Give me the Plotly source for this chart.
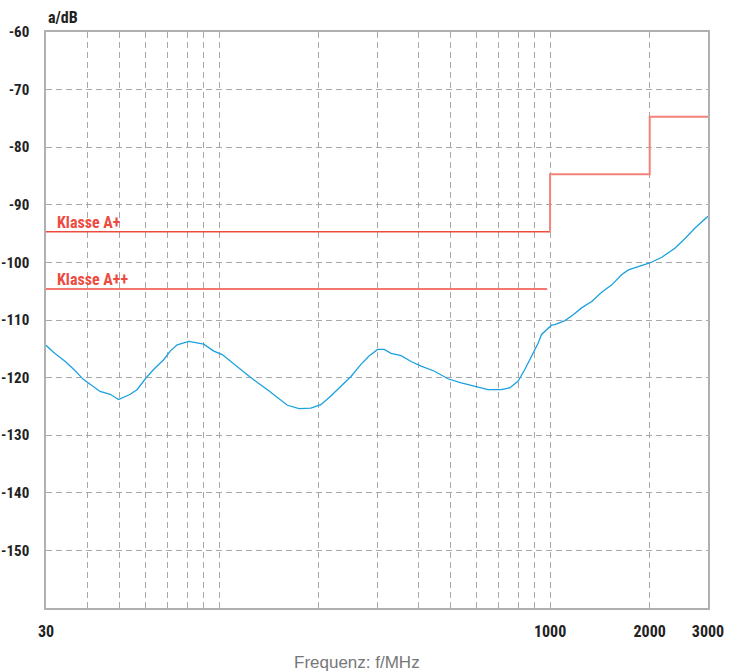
import plotly.graph_objects as go
import math

# ---- data ----
freq_mhz = [30, 31.6, 34.3, 36.3, 38.9, 40.3, 43.7, 46.9, 49.7, 53.9, 56.5, 59.9,
            63.4, 68.0, 71.2, 74.7, 81.0, 89.9, 96.4, 102.2, 110.9, 124.6, 140.0,
            160.9, 174.4, 189.3, 203.0, 217.6, 233.4, 250.3, 268.3, 284.3, 301.5,
            315.7, 330.8, 354.7, 380.3, 407.8, 447.6, 491.4, 539.0, 591.4, 649.4,
            712.7, 755.1, 800.9, 838.8, 878.9, 920.7, 942.3, 964.2, 987.4, 1010,
            1034, 1070, 1109, 1175, 1245, 1336, 1432, 1536, 1647, 1725, 1893, 2000,
            2176, 2388, 2561, 2746, 3000]
atten_db = [-114.4, -115.6, -117.2, -118.5, -120.3, -120.9, -122.4, -122.9, -123.8,
            -122.9, -122.1, -120.2, -118.6, -116.9, -115.4, -114.3, -113.7, -114.2,
            -115.4, -116.0, -117.7, -120.0, -122.1, -124.8, -125.4, -125.3, -124.7,
            -123.2, -121.5, -119.8, -117.7, -116.2, -115.1, -115.1, -115.8, -116.2,
            -117.2, -118.0, -118.9, -120.2, -120.9, -121.5, -122.1, -122.1, -121.8,
            -120.6, -118.6, -116.3, -114.0, -112.5, -112.0, -111.4, -110.9, -110.8,
            -110.4, -110.1, -109.1, -107.9, -106.8, -105.2, -103.9, -102.1, -101.3,
            -100.6, -100.1, -99.1, -97.5, -95.8, -94.0, -92.0]

# limit "Klasse A+" (step)
aplus_low_f = [30, 1000]
aplus_low_db = [-94.7, -94.7]
aplus_step_f = [1000, 1000, 2000, 2000, 3000]
aplus_step_db = [-94.7, -84.7, -84.7, -74.7, -74.7]
# limit "Klasse A++"
aplusplus_f = [30, 980]
aplusplus_db = [-104.6, -104.6]

x_tickvals = [30, 40, 50, 60, 70, 80, 90, 100, 200, 300, 400, 500, 600, 700, 800,
              900, 1000, 2000, 3000]
x_ticktext = ["30"] + [""] * 15 + ["1000", "2000", "3000"]
y_tickvals = [-150, -140, -130, -120, -110, -100, -90, -80, -70, -60]
y_ticktext = [str(v) for v in y_tickvals]

RED = "#ee4b3f"
RED_LIGHT = "#f2827a"
BLUE = "#1ba1e2"
GRID = "#a8a8a8"
FONT_C = "Liberation Sans Narrow, Roboto Condensed, Liberation Sans, Arial"
FONT_N = "Liberation Sans, Arial"

fig = go.Figure()
fig.add_trace(go.Scatter(x=aplus_low_f, y=aplus_low_db, mode="lines",
                         line=dict(color=RED, width=1.5), hoverinfo="skip"))
fig.add_trace(go.Scatter(x=aplus_step_f, y=aplus_step_db, mode="lines",
                         line=dict(color=RED_LIGHT, width=2), hoverinfo="skip"))
fig.add_trace(go.Scatter(x=aplusplus_f, y=aplusplus_db, mode="lines",
                         line=dict(color=RED, width=1.5), hoverinfo="skip"))
fig.add_trace(go.Scatter(x=freq_mhz, y=atten_db, mode="lines",
                         line=dict(color=BLUE, width=1.3)))

for label, yv in [("Klasse A+", aplus_low_db[0]), ("Klasse A++", aplusplus_db[0])]:
    fig.add_annotation(x=math.log10(32), y=yv, xref="x", yref="y", text=label,
                       showarrow=False, xanchor="left", yanchor="bottom", yshift=-2,
                       font=dict(family=FONT_C, size=16, color=RED, weight="bold"))

fig.add_annotation(x=0.0, y=1.0, xref="paper", yref="paper", text="a/dB",
                   showarrow=False, xanchor="left", yanchor="bottom", xshift=0, yshift=3,
                   font=dict(family=FONT_C, size=16, color="#222", weight="bold"))

fig.add_annotation(x=0.470, y=0, xref="paper", yref="paper", text="Frequenz: f/MHz",
                   showarrow=False, xanchor="center", yanchor="top", yshift=-43,
                   font=dict(family=FONT_N, size=17, color="#777"))

fig.update_xaxes(type="log", range=[math.log10(30), math.log10(3000)],
                 tickvals=x_tickvals, ticktext=x_ticktext, automargin=False,
                 showgrid=True, gridcolor=GRID, griddash="6px,4px", gridwidth=1,
                 showline=True, linecolor="#b0b0b0", linewidth=1.5, mirror=True,
                 ticks="", ticklabelstandoff=8, zeroline=False,
                 tickfont=dict(family=FONT_C, size=16, color="#222", weight="bold"))
fig.update_yaxes(range=[-160, -60], tickvals=y_tickvals, ticktext=y_ticktext,
                 automargin=False,
                 showgrid=True, gridcolor=GRID, griddash="6px,4px", gridwidth=1,
                 showline=True, linecolor="#b0b0b0", linewidth=1.5, mirror=True,
                 ticks="", ticklabelstandoff=12, zeroline=False,
                 tickfont=dict(family=FONT_C, size=15, color="#222", weight="bold"))

fig.update_layout(width=739, height=672, showlegend=False,
                  plot_bgcolor="white", paper_bgcolor="white",
                  margin=dict(l=46, r=31, t=32, b=64))

fig.write_html("out.html", config={"displayModeBar": False},
               post_script="document.body.style.margin='0';"
                           "document.body.style.overflow='hidden';")
